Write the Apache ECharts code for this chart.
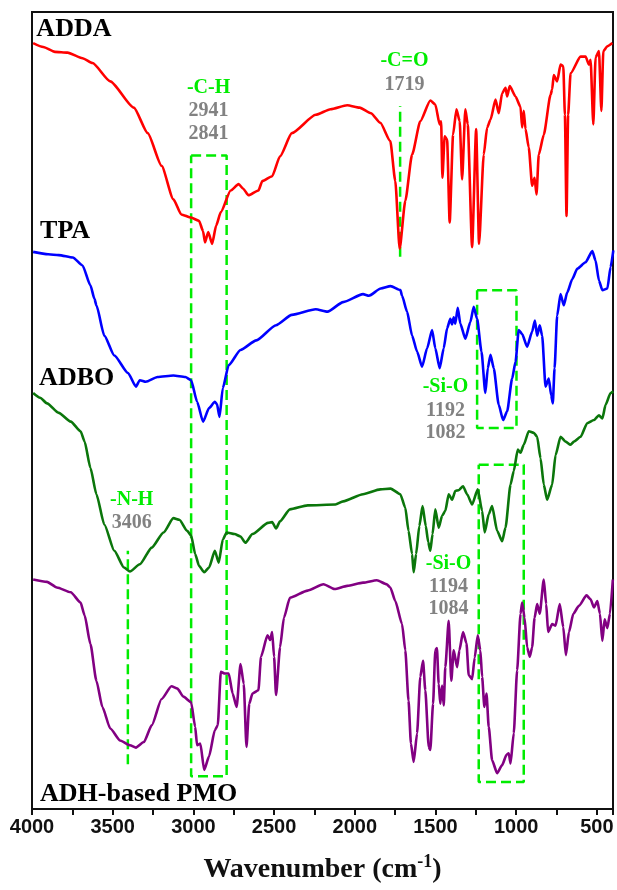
<!DOCTYPE html>
<html>
<head>
<meta charset="utf-8">
<script src="https://cdn.jsdelivr.net/npm/echarts@6/dist/echarts.min.js"></script>
<style>
  html, body { margin: 0; padding: 0; background: #ffffff; }
  #chart { width: 617px; height: 890px; }
</style>
</head>
<body>
<div id="chart"></div>
<script>
// FTIR spectra, offset vertically: [wavenumber (cm-1), signal (a.u.)]
const ADDA = [[3993,96.1],[3930,95.6],[3858,95.0],[3780,94.9],[3687,94.2],[3625,93.6],[3515,91.3],[3369,88.0],[3283,84.8],[3197,80.7],[3124,76.5],[3075,74.6],[3014,74.2],[2965,73.8],[2940,72.5],[2928,71.1],[2908,72.4],[2884,70.9],[2859,73.2],[2830,74.9],[2769,77.6],[2720,78.4],[2690,77.8],[2659,77.0],[2597,77.6],[2573,78.8],[2512,79.4],[2463,81.9],[2390,84.8],[2242,87.1],[2150,87.8],[2047,88.3],[1970,88.0],[1900,87.3],[1842,86.1],[1780,83.8],[1749,78.8],[1722,70.3],[1687,76.3],[1645,82.1],[1594,86.3],[1532,88.9],[1501,88.4],[1474,85.9],[1465,86.3],[1457,79.2],[1443,84.4],[1428,84.0],[1412,73.6],[1391,84.6],[1370,87.8],[1350,86.3],[1335,79.0],[1315,87.8],[1300,85.9],[1273,70.5],[1248,85.3],[1230,70.9],[1201,82.1],[1180,85.5],[1159,86.5],[1128,89.0],[1108,87.3],[1087,89.8],[1066,90.5],[1056,89.4],[1040,90.7],[1004,89.4],[973,88.1],[963,85.5],[953,87.6],[942,85.3],[922,83.0],[901,78.2],[886,79.2],[874,77.1],[860,82.1],[829,84.6],[787,89.6],[777,90.3],[767,92.1],[746,91.3],[725,93.4],[708,93.2],[698,87.1],[688,74.4],[678,87.1],[663,92.3],[601,94.4],[570,94.4],[549,93.4],[539,94.0],[522,85.9],[508,94.3],[487,95.1],[472,87.6],[460,95.1],[435,95.7],[404,96.1]];

const TPA = [[3993,69.9],[3900,69.6],[3834,69.5],[3747,69.2],[3687,68.2],[3638,65.7],[3613,64.0],[3601,63.2],[3552,59.4],[3490,56.9],[3405,54.7],[3356,53.0],[3332,53.8],[3295,53.6],[3222,54.2],[3124,54.4],[3050,54.2],[3014,53.8],[2977,51.1],[2940,48.6],[2903,50.3],[2867,51.1],[2854,50.8],[2838,49.2],[2818,52.8],[2781,55.7],[2708,57.6],[2610,58.8],[2488,60.7],[2390,62.0],[2242,62.7],[2169,62.4],[2072,63.6],[1949,64.6],[1912,64.4],[1839,65.3],[1778,65.6],[1717,65.1],[1707,64.4],[1676,62.4],[1645,59.4],[1614,57.4],[1583,55.5],[1552,57.8],[1521,60.1],[1501,57.8],[1474,55.3],[1449,57.8],[1428,60.3],[1408,61.5],[1397,60.8],[1387,61.7],[1377,60.9],[1362,62.9],[1346,60.9],[1315,59.0],[1284,61.1],[1263,63.0],[1242,61.5],[1215,57.4],[1191,52.2],[1176,55.3],[1159,57.0],[1139,55.3],[1108,50.7],[1081,48.8],[1056,49.9],[1025,54.0],[1004,56.1],[984,60.1],[963,59.6],[932,58.0],[901,59.9],[884,61.3],[870,59.4],[854,60.7],[839,59.4],[818,53.0],[798,54.0],[783,51.9],[773,50.9],[762,55.3],[746,61.9],[725,64.6],[705,63.2],[684,64.8],[652,66.5],[621,67.8],[570,68.6],[528,70.0],[508,68.8],[487,66.3],[466,65.1],[435,65.3],[415,68.0],[398,70.1]];

const ADBO = [[3993,52.2],[3950,51.6],[3907,50.9],[3834,49.7],[3760,48.6],[3699,47.4],[3674,46.1],[3638,42.8],[3601,39.5],[3552,35.7],[3490,32.4],[3430,30.3],[3393,29.8],[3332,30.7],[3258,32.8],[3185,34.7],[3124,36.5],[3087,36.3],[3038,34.9],[3014,34.3],[2989,32.0],[2965,30.5],[2933,29.7],[2903,30.3],[2867,32.4],[2843,30.9],[2818,33.8],[2794,34.7],[2745,34.5],[2708,34.2],[2678,33.4],[2634,34.5],[2537,35.9],[2512,36.0],[2488,35.2],[2463,36.1],[2402,37.6],[2292,38.1],[2120,38.2],[2072,38.6],[1949,39.5],[1842,40.1],[1778,40.2],[1718,39.5],[1687,37.8],[1667,34.9],[1645,32.0],[1635,29.7],[1620,32.0],[1600,35.5],[1580,38.0],[1560,35.5],[1545,33.5],[1532,32.4],[1518,34.5],[1501,37.6],[1480,35.3],[1459,36.8],[1439,37.4],[1418,39.5],[1397,38.8],[1377,39.9],[1356,40.0],[1329,40.5],[1304,39.5],[1273,38.2],[1238,40.1],[1211,37.4],[1195,34.7],[1170,37.0],[1149,38.0],[1118,34.9],[1087,33.6],[1066,35.3],[1035,40.7],[1015,42.4],[990,45.1],[973,44.7],[953,45.7],[922,47.4],[891,47.2],[870,46.7],[849,44.0],[829,40.7],[808,38.8],[777,40.7],[756,44.4],[725,46.7],[694,46.1],[663,45.7],[642,46.1],[601,46.7],[560,48.4],[518,48.8],[487,49.4],[466,49.0],[446,50.7],[415,52.2],[398,52.4]];

const PMO = [[3993,28.8],[3907,28.5],[3846,27.8],[3760,27.2],[3699,25.9],[3674,24.3],[3638,20.7],[3601,16.1],[3564,12.8],[3515,10.1],[3454,8.6],[3393,8.0],[3356,7.7],[3307,8.4],[3258,10.5],[3197,13.8],[3136,15.4],[3099,15.1],[3062,14.1],[3014,13.4],[2989,10.3],[2977,8.0],[2957,8.2],[2933,4.9],[2903,6.6],[2867,9.9],[2849,10.5],[2830,17.2],[2805,17.0],[2781,17.0],[2757,14.5],[2732,12.8],[2708,18.2],[2688,15.7],[2671,7.8],[2654,13.2],[2634,14.5],[2597,14.9],[2581,19.1],[2541,21.8],[2524,21.2],[2512,22.2],[2500,19.1],[2488,14.3],[2463,20.3],[2439,24.0],[2402,26.5],[2292,27.4],[2194,28.2],[2125,27.6],[2047,28.0],[1949,28.4],[1863,28.7],[1802,28.2],[1780,27.8],[1749,26.1],[1707,23.2],[1687,19.9],[1667,13.6],[1652,8.2],[1635,5.9],[1614,9.5],[1594,16.6],[1577,18.6],[1563,14.9],[1542,7.8],[1532,7.4],[1515,13.2],[1501,19.9],[1491,20.2],[1480,15.7],[1470,13.2],[1459,15.5],[1449,13.0],[1439,17.8],[1418,23.6],[1402,16.1],[1387,19.9],[1366,17.8],[1352,19.9],[1329,22.2],[1308,20.8],[1294,16.8],[1273,16.3],[1257,19.0],[1238,21.8],[1222,19.9],[1211,16.6],[1197,12.8],[1184,14.5],[1170,10.3],[1149,6.1],[1118,4.5],[1087,5.5],[1060,6.8],[1046,7.0],[1035,5.7],[1015,9.5],[994,17.4],[973,24.5],[963,25.9],[948,24.0],[932,20.3],[916,19.1],[901,20.3],[886,24.0],[870,25.7],[854,24.5],[829,28.8],[814,25.7],[802,22.2],[777,23.2],[756,23.0],[730,25.7],[708,22.8],[692,19.3],[673,22.2],[646,24.5],[611,25.5],[564,26.8],[539,26.3],[518,25.3],[497,26.1],[481,24.5],[466,21.1],[452,23.8],[435,22.7],[419,24.5],[401,28.8]];

// Band-assignment boxes: [high wavenumber, low wavenumber, bottom, top]
const boxCH = [3014, 2794, 4.1, 82.0];
const boxSiOTPA = [1242, 998, 47.8, 65.1];
const boxSiOPMO = [1232, 953, 3.4, 43.2];
// Band-assignment marker lines: [wavenumber, bottom, top]
const lineCO = [1719, 69.3, 88.2];
const lineNH = [3406, 5.6, 32.4];

// Annotation texts: [wavenumber, level, text]
const bandNames = [[2906, 90.5, '-C-H'], [1692, 93.9, '-C=O'], [3382, 38.8, '-N-H'], [1438, 53.0, '-Si-O'], [1419, 30.7, '-Si-O']];
const bandValues = [[2906, 87.6, '2941'], [2906, 84.7, '2841'], [1692, 90.9, '1719'], [3382, 35.9, '3406'], [1438, 49.9, '1192'], [1438, 47.2, '1082'], [1419, 27.9, '1194'], [1419, 25.1, '1084']];
const sampleNames = [[3973, 97.8, 'ADDA'], [3950, 72.5, 'TPA'], [3956, 54.0, 'ADBO'], [3950, 1.8, 'ADH-based PMO']];

const SERIF = '"Liberation Serif", "Times New Roman", serif';
const SANS = '"Liberation Sans", Arial, sans-serif';
const LIME = '#00ec00';
const GREY = '#828282';

function rectPath(b) {
  return [[b[0], b[3]], [b[1], b[3]], [b[1], b[2]], [b[0], b[2]], [b[0], b[3]]];
}
function vLine(l) {
  return [[l[0], l[1]], [l[0], l[2]]];
}
function spectrum(name, data, color) {
  return {
    name, type: 'line', data, showSymbol: false, symbol: 'none',
    smooth: 0.2, smoothMonotone: 'x',
    lineStyle: { color, width: 2.6 }, silent: true, z: 3
  };
}
function dashed(data) {
  return {
    type: 'line', data, showSymbol: false, symbol: 'none', silent: true, z: 2,
    lineStyle: { color: LIME, width: 2.5, type: [10, 5] }
  };
}
function textSeries(items, style, position) {
  return {
    type: 'scatter', silent: true, symbolSize: 0, z: 5,
    itemStyle: { opacity: 1 },
    data: items.map(d => ({ value: [d[0], d[1]], label: { formatter: d[2] } })),
    label: Object.assign({ show: true, position, distance: 0, textBorderWidth: 0 }, style)
  };
}

const chart = echarts.init(document.getElementById('chart'), null, { renderer: 'canvas' });
chart.setOption({
  animation: false,
  backgroundColor: '#ffffff',
  grid: { left: 32, right: 4, top: 12, bottom: 78, show: true, borderColor: '#111', borderWidth: 2, backgroundColor: 'transparent' },
  xAxis: {
    type: 'value', min: 400, max: 4000, inverse: true, splitNumber: 7,
    splitLine: { show: false },
    axisLine: { show: true, lineStyle: { color: '#111', width: 2 } },
    axisTick: { show: true, length: 6, lineStyle: { color: '#111', width: 2 } },
    minorTick: { show: true, splitNumber: 2, length: 6, lineStyle: { color: '#111', width: 2 } },
    axisLabel: {
      margin: 8, color: '#111', fontFamily: SANS, fontWeight: 'bold', fontSize: 20,
      formatter: v => (v % 500 === 0 ? String(v) : '')
    },
    name: '{t|Wavenumber (cm}{s|-1}{t|)}',
    nameLocation: 'middle', nameGap: 44,
    nameTextStyle: {
      rich: {
        t: { fontFamily: SERIF, fontWeight: 'bold', fontSize: 28, color: '#111', lineHeight: 34 },
        s: { fontFamily: SERIF, fontWeight: 'bold', fontSize: 18, color: '#111', verticalAlign: 'top', lineHeight: 34, padding: [0, 0, 14, 0] }
      }
    }
  },
  yAxis: { type: 'value', min: 0, max: 100, show: false },
  series: [
    dashed(rectPath(boxCH)),
    dashed(rectPath(boxSiOTPA)),
    dashed(rectPath(boxSiOPMO)),
    dashed(vLine(lineCO)),
    dashed(vLine(lineNH)),
    spectrum('ADDA', ADDA, '#ff0000'),
    spectrum('TPA', TPA, '#0000ff'),
    spectrum('ADBO', ADBO, '#0b760b'),
    spectrum('ADH-based PMO', PMO, '#820082'),
    textSeries(bandNames, { color: LIME, fontFamily: SERIF, fontWeight: 'bold', fontSize: 20 }, 'inside'),
    textSeries(bandValues, { color: GREY, fontFamily: SERIF, fontWeight: 'bold', fontSize: 20 }, 'inside'),
    textSeries(sampleNames, { color: '#000', fontFamily: SERIF, fontWeight: 'bold', fontSize: 26 }, 'right')
  ]
});
</script>
</body>
</html>
